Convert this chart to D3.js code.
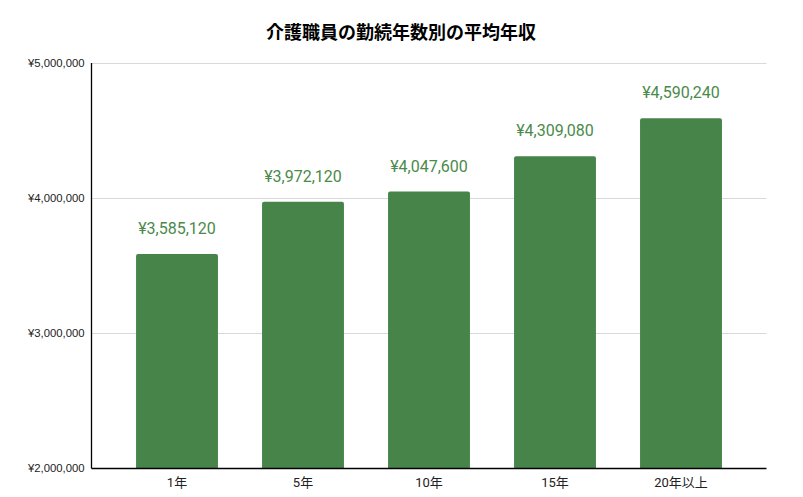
<!DOCTYPE html>
<html><head><meta charset="utf-8">
<script src="https://cdn.jsdelivr.net/npm/d3@7"></script>
<style>
html,body{margin:0;padding:0;background:#fff;}
svg{display:block;}
</style></head>
<body>
<svg id="chart" width="803" height="497"></svg>
<script>
const title = "介護職員の勤続年数別の平均年収";
const categories = ["1年", "5年", "10年", "15年", "20年以上"];
const values = [3585120, 3972120, 4047600, 4309080, 4590240];
const yTicks = [2000000, 3000000, 4000000, 5000000];

(function () {
const svg = d3.select("#chart");
const W = 803, H = 497;
const mLeft = 91.5, mRight = 766.5, mTop = 63, mBottom = 468;
const barColor = "#46844a";
const labelColor = "#4a8a4a";

const y = d3.scaleLinear().domain([2000000, 5000000]).range([mBottom, mTop]);
const x = d3.scaleBand().domain(categories).range([114, 744]).paddingInner(0.35).paddingOuter(0.175);

const fmt = v => "¥" + d3.format(",")(v);

svg.append("rect").attr("width", W).attr("height", H).attr("fill", "#fff");

// title
svg.append("text").attr("x", 401).attr("y", 39).attr("text-anchor", "middle")
  .attr("font-family", "'Noto Sans CJK JP', sans-serif").attr("font-weight", "bold")
  .attr("font-size", 18).attr("fill", "#000").text(title);

// grid
svg.append("g").selectAll("line").data(yTicks.filter(d => d > 2000000)).join("line")
  .attr("x1", mLeft).attr("x2", mRight).attr("y1", d => Math.round(y(d)) + 0.5).attr("y2", d => Math.round(y(d)) + 0.5)
  .attr("stroke", "#d9d9d9").attr("stroke-width", 1);

// y axis labels
const yAxis = d3.axisLeft(y).tickValues(yTicks).tickFormat(fmt).tickSize(0).tickPadding(7);
const ya = svg.append("g").attr("transform", `translate(${mLeft},0)`).call(yAxis);
ya.select(".domain").remove();
ya.selectAll("text").attr("font-family", "'Liberation Sans', Arial, sans-serif").attr("font-size", 11.3).attr("fill", "#222");

// bars
const r = 2;
svg.append("g").selectAll("path").data(values).join("path")
  .attr("d", (d, i) => {
    const x0 = x(categories[i]), w = x.bandwidth(), y0 = y(d), y1 = mBottom;
    return `M${x0},${y1}V${y0 + r}Q${x0},${y0} ${x0 + r},${y0}H${x0 + w - r}Q${x0 + w},${y0} ${x0 + w},${y0 + r}V${y1}Z`;
  })
  .attr("fill", barColor);

// value labels
svg.append("g").selectAll("text").data(values).join("text")
  .attr("x", (d, i) => x(categories[i]) + x.bandwidth() / 2)
  .attr("y", d => y(d) - 20)
  .attr("text-anchor", "middle")
  .attr("font-family", "Roboto, sans-serif").attr("font-size", 16).attr("fill", labelColor)
  .text(fmt);

// axes lines
svg.append("line").attr("x1", mLeft).attr("x2", mLeft).attr("y1", mTop).attr("y2", mBottom + 0.5)
  .attr("stroke", "#000").attr("stroke-width", 1.3);
svg.append("line").attr("x1", mLeft).attr("x2", mRight).attr("y1", mBottom + 0.5).attr("y2", mBottom + 0.5)
  .attr("stroke", "#000").attr("stroke-width", 1.3);

// x labels
const xAxis = d3.axisBottom(x).tickSize(0).tickPadding(10);
const xa = svg.append("g").attr("transform", `translate(0,${mBottom})`).call(xAxis);
xa.select(".domain").remove();
xa.selectAll("text").attr("font-family", "Roboto, 'Noto Sans CJK JP', sans-serif").attr("font-size", 13).attr("fill", "#222");
})();
</script>
</body></html>
